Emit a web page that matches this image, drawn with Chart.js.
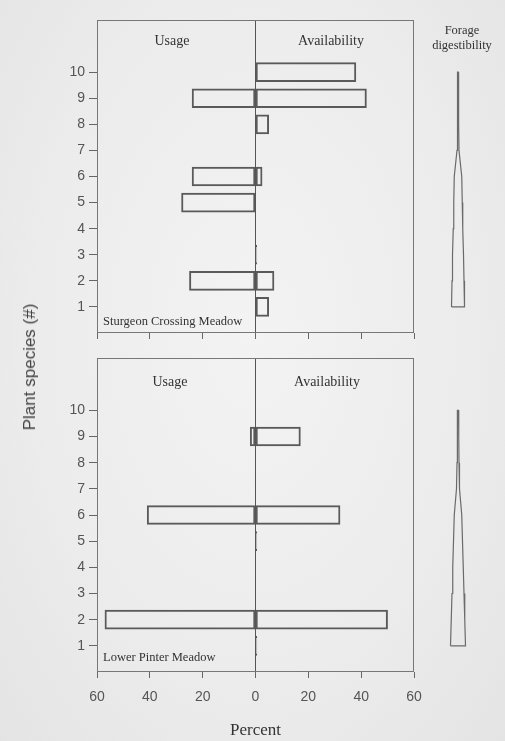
<!DOCTYPE html>
<html>
<head>
<meta charset="utf-8">
<script src="https://cdn.jsdelivr.net/npm/chart.js@4"></script>
<style>
html,body{margin:0;padding:0;background:#ececec;}
#wrap{position:relative;width:505px;height:741px;overflow:hidden;background:radial-gradient(ellipse at 50% 45%,#f3f3f3 0%,#ececec 60%,#e4e4e4 100%);}
canvas{position:absolute;}
#ytitle{position:absolute;left:30px;top:367px;transform:translate(-50%,-50%) rotate(-90deg);font:17px "Liberation Sans",Arial,sans-serif;color:#444;white-space:nowrap;}
</style>
</head>
<body>
<div id="wrap">
  <canvas id="top" width="430" height="345" style="left:0;top:0"></canvas>
  <canvas id="topDig" width="76" height="345" style="left:420px;top:0"></canvas>
  <canvas id="bot" width="430" height="396" style="left:0;top:345px"></canvas>
  <canvas id="botDig" width="76" height="396" style="left:420px;top:345px"></canvas>
  <div id="ytitle">Plant species (#)</div>
</div>
<script>
// species 1..10
const species=[1,2,3,4,5,6,7,8,9,10];
// Sturgeon Crossing Meadow (percent; usage plotted to the left)
const topUsage=[null,-25,null,null,-28,-24,null,null,-24,null];
const topAvail=[5,7,0.5,null,null,2.5,null,5,42,38];
const topDigest=[13,12,11,9.5,8.5,7.5,2,1.5,1,0.5];
// Lower Pinter Meadow
const botUsage=[null,-57,null,null,null,-41,null,null,-2,null];
const botAvail=[0.5,50,null,null,0.5,32,null,null,17,null];
const botDigest=[15,13.5,12,10.5,9,7.5,3,2,1.5,1];
const xTicks=[-60,-40,-20,0,20,40,60];

const SERIF='"Liberation Serif","Times New Roman",serif';
const SANS='"Liberation Sans",Arial,sans-serif';

const frame={id:'frame',afterDraw(c){const o=c.options.plugins.frame;if(!o||!o.on)return;const a=c.chartArea,x=c.ctx;x.save();x.strokeStyle='#777';x.lineWidth=1;x.strokeRect(a.left+.5,a.top+.5,a.right-a.left-1,a.bottom-a.top-1);x.restore();}};
const notes={id:'notes',afterDraw(c){const o=c.options.plugins.notes;if(!o||!o.items)return;const a=c.chartArea,x=c.ctx;x.save();x.fillStyle='#333';x.textBaseline='middle';
  o.items.forEach(n=>{x.font=n.size+'px '+SERIF;x.textAlign=n.align||'center';x.fillText(n.text,a.left+n.dx,a.top+n.dy);});x.restore();}};

function pts(vals){return species.map((s,i)=>vals[i]==null?null:{x:vals[i],y:s}).filter(Boolean);}

function bars(id,usage,avail,opt){
  const ds=(v)=>({data:pts(v),grouped:false,borderColor:'#5a5a5a',borderWidth:1.3,backgroundColor:'rgba(0,0,0,0)',barThickness:19,borderSkipped:false});
  return new Chart(document.getElementById(id),{type:'bar',
    data:{datasets:[ds(usage),ds(avail)]},
    options:{indexAxis:'y',responsive:false,animation:false,
      layout:{padding:{top:opt.padTop,right:16,left:0,bottom:0}},
      plugins:{legend:{display:false},tooltip:{enabled:false},frame:{on:true},notes:{items:opt.notes}},
      scales:{
        x:{type:'linear',min:-60,max:60,afterBuildTicks:s=>{s.ticks=xTicks.map(v=>({value:v}));},
          afterFit:s=>{s.height=opt.xHeight;s.paddingLeft=0;s.paddingRight=0;},
          grid:{drawOnChartArea:true,color:c=>c.tick&&c.tick.value===0?'#555':'rgba(0,0,0,0)',tickColor:'#666',tickLength:6,lineWidth:1},
          border:{display:false},
          ticks:{display:opt.xLabels,padding:11,color:'#555',font:{family:SANS,size:14},callback:v=>Math.abs(v)},
          title:{display:opt.xLabels,text:'Percent',color:'#333',font:{family:SERIF,size:17},padding:{top:0,bottom:0}}},
        y:{type:'linear',min:0,max:12,offset:false,afterBuildTicks:s=>{s.ticks=species.map(v=>({value:v}));},
          afterFit:s=>{s.width=97;s.paddingTop=0;s.paddingBottom=0;},
          grid:{offset:false,drawOnChartArea:false,tickColor:'#666',tickLength:8},
          border:{display:false},
          ticks:{padding:4,color:'#555',font:{family:SANS,size:14}}}
      }},plugins:[frame,notes]});
}

function wedge(id,w,opt){
  const left=species.map((s,i)=>({x:-w[i]/2,y:s}));
  const right=species.map((s,i)=>({x:w[i]/2,y:s})).reverse();
  const poly=left.concat(right,[left[0]]);
  return new Chart(document.getElementById(id),{type:'scatter',
    data:{datasets:[{data:poly,showLine:true,borderColor:'#6a6a6a',borderWidth:1.2,pointRadius:0,fill:false,tension:0}]},
    options:{responsive:false,animation:false,
      layout:{padding:{top:opt.padTop,bottom:opt.padBottom,left:0,right:0}},
      plugins:{legend:{display:false},tooltip:{enabled:false},notes:{items:opt.notes||[]}},
      scales:{x:{type:'linear',min:-38,max:38,display:false},y:{type:'linear',min:0,max:12,display:false}}},
    plugins:[notes]});
}

bars('top',topUsage,topAvail,{padTop:20,xHeight:12,xLabels:false,notes:[
  {text:'Usage',dx:75,dy:21,size:14},{text:'Availability',dx:234,dy:21,size:14},
  {text:'Sturgeon Crossing Meadow',dx:6,dy:302,size:12.5,align:'left'}]});
bars('bot',botUsage,botAvail,{padTop:13,xHeight:69,xLabels:true,notes:[
  {text:'Usage',dx:73,dy:24,size:14},{text:'Availability',dx:230,dy:24,size:14},
  {text:'Lower Pinter Meadow',dx:6,dy:300,size:12.5,align:'left'}]});
wedge('topDig',topDigest,{padTop:20,padBottom:12,notes:[
  {text:'Forage',dx:42,dy:11,size:12.5},{text:'digestibility',dx:42,dy:26,size:12.5}]});
wedge('botDig',botDigest,{padTop:13,padBottom:69});
</script>
</body>
</html>
